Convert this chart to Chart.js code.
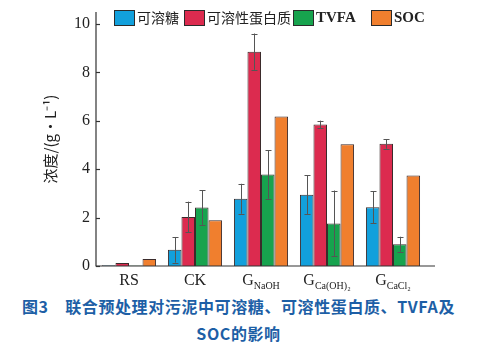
<!DOCTYPE html>
<html>
<head>
<meta charset="utf-8">
<script src="https://cdn.jsdelivr.net/npm/chart.js@4.4.0/dist/chart.umd.min.js"></script>
<style>
  html, body { margin: 0; padding: 0; background: #fff; }
  #wrap { width: 477px; height: 292px; position: relative; }
  #caption {
    width: 477px; text-align: center; color: #1d5fa6;
    font-family: 'Noto Sans CJK SC', sans-serif; font-weight: bold;
    font-size: 16px; line-height: 27px; margin-top: 1px; letter-spacing: 0.6px;
  }
</style>
</head>
<body>
<div id="wrap"><canvas id="chart" width="477" height="292"></canvas></div>
<div id="caption">图3　联合预处理对污泥中可溶糖、可溶性蛋白质、TVFA及<br>SOC的影响</div>
<script>
// categories: main letter + subscript part
const categories = ['RS', 'CK', 'G_NaOH', 'G_Ca(OH)₂', 'G_CaCl₂'];
const seriesNames = ['可溶糖', '可溶性蛋白质', 'TVFA', 'SOC'];

// values (g/L)
const sugar   = [0.03, 0.67, 2.78, 2.95, 2.43];
const protein = [0.12, 2.03, 8.86, 5.85, 5.05];
const tvfa    = [0.02, 2.42, 3.78, 1.76, 0.90];
const soc     = [0.29, 1.89, 6.18, 5.03, 3.74];

// error bars (+/-)
const sugarErr   = [0, 0.53, 0.62, 0.80, 0.65];
const proteinErr = [0, 0.63, 0.75, 0.16, 0.20];
const tvfaErr    = [0, 0.72, 1.00, 1.36, 0.31];
const socErr     = [0, 0, 0, 0, 0];

const yTicks = [0, 2, 4, 6, 8, 10];

const colors = ['#12a0dc', '#dc2b4f', '#17a34e', '#f07f2e'];
const values = [sugar, protein, tvfa, soc];
const errors = [sugarErr, proteinErr, tvfaErr, socErr];

const datasets = seriesNames.map((name, i) => ({
  label: name,
  data: values[i],
  errors: errors[i],
  backgroundColor: colors[i],
  borderColor: '#3b2b2b',
  borderWidth: 1,
  categoryPercentage: 0.82,
  barPercentage: 1.0
}));

const serif = "'Liberation Serif', 'Times New Roman', serif";
const legendX = [114, 184, 293, 371];

// error bars, axes, legend and subscripted x labels
const extras = {
  id: 'extras',
  afterDatasetsDraw(chart) {
    const ctx = chart.ctx;
    const y = chart.scales.y;
    const x = chart.scales.x;
    const area = chart.chartArea;
    ctx.save();

    // error bars
    ctx.strokeStyle = '#555';
    ctx.lineWidth = 1;
    chart.data.datasets.forEach((ds, di) => {
      const meta = chart.getDatasetMeta(di);
      meta.data.forEach((bar, i) => {
        const e = ds.errors[i];
        if (!e) return;
        const v = ds.data[i];
        const top = y.getPixelForValue(v + e);
        const bot = y.getPixelForValue(v - e);
        const cx = Math.round(bar.x) + 0.5;
        ctx.beginPath();
        ctx.moveTo(cx, top); ctx.lineTo(cx, bot);
        ctx.moveTo(cx - 3, Math.round(top) + 0.5); ctx.lineTo(cx + 3, Math.round(top) + 0.5);
        ctx.moveTo(cx - 3, Math.round(bot) + 0.5); ctx.lineTo(cx + 3, Math.round(bot) + 0.5);
        ctx.stroke();
      });
    });

    // axes lines
    ctx.strokeStyle = '#333';
    ctx.lineWidth = 1.2;
    ctx.beginPath();
    ctx.moveTo(area.left, area.top);
    ctx.lineTo(area.left, area.bottom);
    ctx.lineTo(area.right + 9, area.bottom);
    ctx.stroke();
    // inward ticks
    yTicks.forEach(t => {
      const py = Math.round(y.getPixelForValue(t)) + 0.5;
      ctx.beginPath();
      ctx.moveTo(area.left, py);
      ctx.lineTo(area.left + 4, py);
      ctx.stroke();
    });

    // legend
    ctx.textBaseline = 'middle';
    chart.data.datasets.forEach((ds, i) => {
      const lx = legendX[i];
      ctx.fillStyle = ds.backgroundColor;
      ctx.fillRect(lx, 10, 20, 15);
      ctx.strokeStyle = '#2b2b2b';
      ctx.lineWidth = 1;
      ctx.strokeRect(lx + 0.5, 10.5, 20, 15);
      ctx.fillStyle = '#222';
      const latin = /^[A-Za-z]/.test(ds.label);
      ctx.font = latin ? 'bold 15px ' + serif : "14px 'Noto Sans CJK SC', sans-serif";
      ctx.fillText(ds.label, lx + 23, 18);
    });

    // x labels with subscripts
    ctx.fillStyle = '#222';
    ctx.textBaseline = 'alphabetic';
    categories.forEach((c, i) => {
      const parts = c.split('_');
      const cx = x.getPixelForValue(i);
      ctx.font = '16px ' + serif;
      const w1 = ctx.measureText(parts[0]).width;
      let w2 = 0;
      if (parts[1]) {
        ctx.font = '10px ' + serif;
        w2 = ctx.measureText(parts[1]).width;
      }
      const start = cx - (w1 + w2) / 2;
      const base = area.bottom + 19;
      ctx.font = '16px ' + serif;
      ctx.fillText(parts[0], start, base);
      if (parts[1]) {
        ctx.font = '10px ' + serif;
        ctx.fillText(parts[1], start + w1, base + 4);
      }
    });
    ctx.restore();
  }
};

new Chart(document.getElementById('chart'), {
  type: 'bar',
  data: { labels: categories, datasets: datasets },
  plugins: [extras],
  options: {
    responsive: false,
    animation: false,
    layout: { padding: { top: 12, right: 51, left: 41, bottom: 0 } },
    plugins: {
      tooltip: { enabled: false },
      legend: { display: false }
    },
    scales: {
      x: {
        grid: { display: false },
        border: { display: false },
        ticks: { display: false },
        afterFit(scale) { scale.height = 26; }
      },
      y: {
        min: 0,
        max: 10.5,
        border: { display: false },
        grid: { display: false },
        afterBuildTicks(scale) {
          scale.ticks = yTicks.map(v => ({ value: v }));
        },
        ticks: {
          color: '#222',
          padding: -2,
          font: { family: serif, size: 16 }
        },
        title: {
          display: true,
          text: '浓度/(g·L⁻¹)',
          color: '#222',
          padding: { top: 0, bottom: 0 },
          font: { family: "'Noto Sans CJK SC', " + serif, size: 15 }
        },
        afterFit(scale) { scale.width = 55; }
      }
    }
  }
});
</script>
</body>
</html>
